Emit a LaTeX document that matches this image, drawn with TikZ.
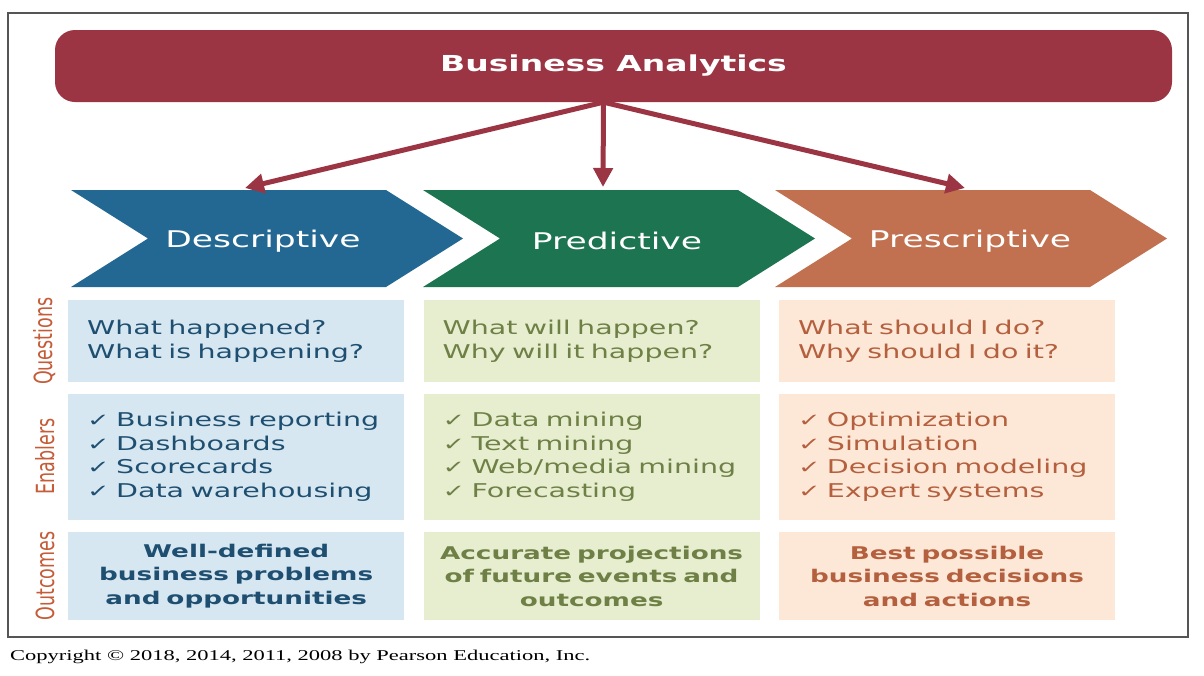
\documentclass[tikz,border=0pt]{standalone}
\usepackage{fontspec}
\setmainfont{DejaVu Sans}[FakeStretch=1.5]
\newfontfamily\labfont{DejaVu Sans}[FakeStretch=0.7]
\newfontfamily\copyfont{Liberation Serif}[FakeStretch=1.5]
\usepackage{xcolor}
\usepackage{tikz}
\usetikzlibrary{arrows.meta,positioning}
\definecolor{bacolor}{HTML}{9B3544}
\definecolor{desccolor}{HTML}{236893}
\definecolor{predcolor}{HTML}{1D7451}
\definecolor{presccolor}{HTML}{C1714F}
\definecolor{descfill}{HTML}{D6E7F2}
\definecolor{predfill}{HTML}{E7EECF}
\definecolor{prescfill}{HTML}{FDE8D8}
\definecolor{desctext}{HTML}{1F4F70}
\definecolor{predtext}{HTML}{6E8045}
\definecolor{presctext}{HTML}{B4603E}
\definecolor{labcolor}{HTML}{C55B37}
\definecolor{framecolor}{HTML}{555555}
\newcommand{\ck}{{\fontsize{18}{18}\selectfont ✓}}

\begin{document}
\begin{tikzpicture}[
  x=1pt,y=-1pt,
  node distance=11pt and 19pt,
  banner/.style={rectangle,rounded corners=20pt,fill=bacolor,text=white,minimum width=1117pt,minimum height=72pt,font=\fontsize{22}{26}\selectfont\bfseries},
  chevtext/.style={text=white,font=\fontsize{23}{27}\selectfont},
  box/.style={rectangle,text width=298pt,inner xsep=19pt,inner ysep=0pt,align=left,font=\fontsize{19}{23.5}\selectfont},
  qbox/.style={box,minimum height=82pt},
  ebox/.style={box,minimum height=126pt},
  obox/.style={box,text width=324pt,inner xsep=6pt,minimum height=88pt,align=center,font=\fontsize{17.5}{23.5}\selectfont\bfseries},
  rowlab/.style={rotate=90,text=labcolor,inner sep=0pt,font=\labfont\fontsize{25}{25}\selectfont},
  arr/.style={-{Triangle[length=19pt,width=19pt]},line width=5pt,draw=bacolor}
]
\useasboundingbox (0,0) rectangle (1204,675);
\fill[white] (0,0) rectangle (1204,675);
\draw[framecolor,line width=1.5pt] (8,13) rectangle (1188,637);

\node[banner] (ba) at (613.5,66) {Business Analytics};

% chevrons
\fill[desccolor] (71,190) -- ++(315,0) -- ++(77,48.5) -- ++(-77,48.5) -- ++(-315,0) -- ++(77,-48.5) -- cycle;
\fill[predcolor] (423,190) -- ++(315,0) -- ++(77,48.5) -- ++(-77,48.5) -- ++(-315,0) -- ++(77,-48.5) -- cycle;
\fill[presccolor] (775,190) -- ++(315,0) -- ++(77,48.5) -- ++(-77,48.5) -- ++(-315,0) -- ++(77,-48.5) -- cycle;
\node[chevtext] (desc) at (263,241) {Descriptive};
\node[chevtext] (pred) at (617,241) {Predictive};
\node[chevtext] (presc) at (970,241) {Prescriptive};

\coordinate (desctop) at (245,188);
\coordinate (predtop) at (603,187);
\coordinate (presctop) at (965,188);
\draw[arr] ([xshift=-10pt]ba.south) -- (desctop);
\draw[arr] ([xshift=-10pt]ba.south) -- (predtop);
\draw[arr] ([xshift=-10pt]ba.south) -- (presctop);

% descriptive column
\node[qbox,fill=descfill,text=desctext,anchor=north west] (q1) at (68,300) {What happened?\\What is happening?};
\node[ebox,fill=descfill,text=desctext,below=11pt of q1] (e1) {\ck\ Business reporting\\\ck\ Dashboards\\\ck\ Scorecards\\\ck\ Data warehousing};
\node[obox,fill=descfill,text=desctext,below=12pt of e1] (o1) {Well-defined\\business problems\\and opportunities};

% predictive column
\node[qbox,fill=predfill,text=predtext,right=19pt of q1] (q2) {What will happen?\\Why will it happen?};
\node[ebox,fill=predfill,text=predtext,below=11pt of q2] (e2) {\ck\ Data mining\\\ck\ Text mining\\\ck\ Web/media mining\\\ck\ Forecasting};
\node[obox,fill=predfill,text=predtext,below=12pt of e2] (o2) {Accurate projections\\of future events and\\outcomes};

% prescriptive column
\node[qbox,fill=prescfill,text=presctext,right=19pt of q2] (q3) {What should I do?\\Why should I do it?};
\node[ebox,fill=prescfill,text=presctext,below=11pt of q3] (e3) {\ck\ Optimization\\\ck\ Simulation\\\ck\ Decision modeling\\\ck\ Expert systems};
\node[obox,fill=prescfill,text=presctext,below=12pt of e3] (o3) {Best possible\\business decisions\\and actions};

% row labels
\node[rowlab] (lq) at ([xshift=-23pt]q1.west) {Questions};
\node[rowlab] (le) at ([xshift=-23pt]e1.west) {Enablers};
\node[rowlab] (lo) at ([xshift=-23pt]o1.west) {Outcomes};

\node[anchor=west,inner sep=0pt,font=\copyfont\fontsize{15}{15}\selectfont] (copy) at (10,657) {Copyright © 2018, 2014, 2011, 2008 by Pearson Education, Inc.};
\end{tikzpicture}
\end{document}
